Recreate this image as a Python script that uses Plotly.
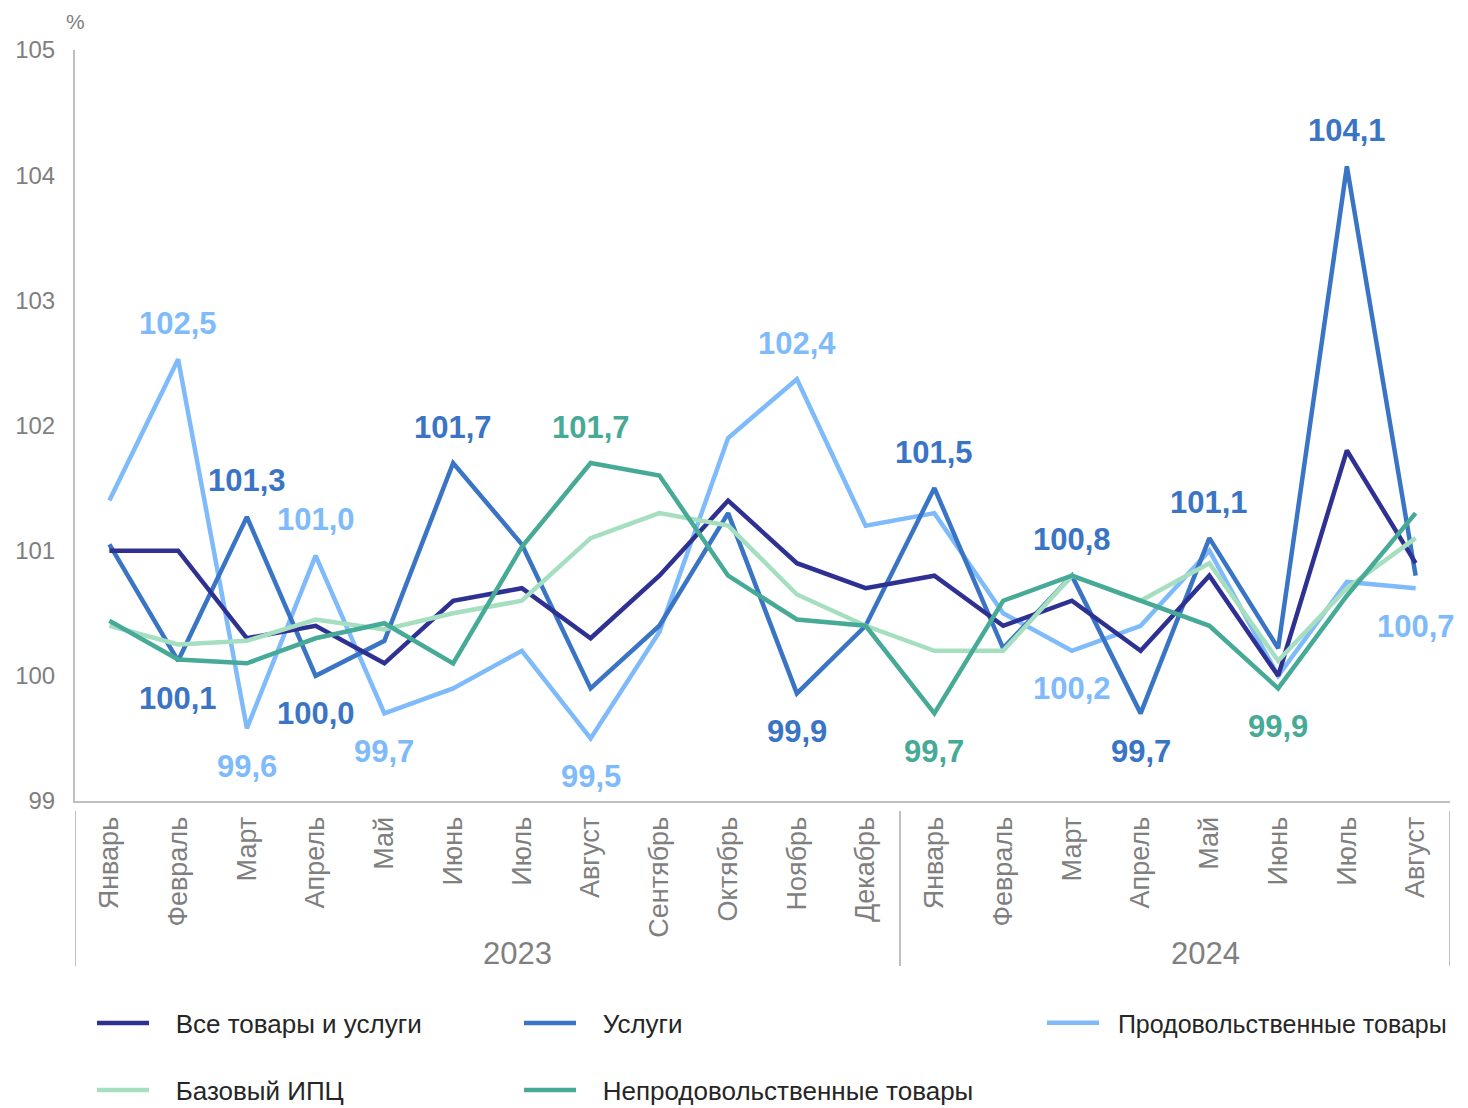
import plotly.graph_objects as go

months = ["Январь", "Февраль", "Март", "Апрель", "Май", "Июнь", "Июль", "Август",
          "Сентябрь", "Октябрь", "Ноябрь", "Декабрь",
          "Январь", "Февраль", "Март", "Апрель", "Май", "Июнь", "Июль", "Август"]
years = ["2023"] * 12 + ["2024"] * 8

all_goods = [101.0, 101.0, 100.3, 100.4, 100.1, 100.6, 100.7, 100.3, 100.8, 101.4,
             100.9, 100.7, 100.8, 100.4, 100.6, 100.2, 100.8, 100.0, 101.8, 100.9]
services = [101.05, 100.12, 101.27, 100.0, 100.28, 101.7, 101.05, 99.9, 100.4, 101.3,
            99.86, 100.4, 101.5, 100.22, 100.8, 99.7, 101.1, 100.22, 104.07, 100.8]
food = [101.4, 102.53, 99.58, 100.96, 99.7, 99.9, 100.2, 99.5, 100.35, 101.9,
        102.37, 101.2, 101.3, 100.5, 100.2, 100.4, 101.0, 100.0, 100.75, 100.7]
core = [100.4, 100.25, 100.28, 100.45, 100.37, 100.5, 100.6, 101.1, 101.3, 101.2,
        100.65, 100.4, 100.2, 100.2, 100.8, 100.6, 100.9, 100.12, 100.7, 101.1]
nonfood = [100.44, 100.13, 100.1, 100.3, 100.42, 100.1, 101.03, 101.7, 101.6, 100.8,
           100.45, 100.4, 99.7, 100.6, 100.8, 100.6, 100.4, 99.9, 100.64, 101.3]

names = {
    "all": "Все товары и услуги",
    "services": "Услуги",
    "food": "Продовольственные товары",
    "core": "Базовый ИПЦ",
    "nonfood": "Непродовольственные товары",
}
values = {"all": all_goods, "services": services, "food": food, "core": core, "nonfood": nonfood}
colors = {"all": "#2E3192", "services": "#3A74C4", "food": "#7FBBFA",
          "core": "#A5DFC0", "nonfood": "#47AA96"}
legend_of = {"all": "legend", "services": "legend2", "food": "legend3",
             "core": "legend4", "nonfood": "legend5"}

# labelled points: (series, index, side)
labelled = [("food", 1, 1), ("services", 1, -1), ("services", 2, 1), ("food", 2, -1),
            ("food", 3, 1), ("services", 3, -1), ("food", 4, -1), ("services", 5, 1),
            ("nonfood", 7, 1), ("food", 7, -1), ("food", 10, 1), ("services", 10, -1),
            ("services", 12, 1), ("nonfood", 12, -1), ("services", 14, 1), ("food", 14, -1),
            ("services", 15, -1), ("services", 16, 1), ("nonfood", 17, -1),
            ("services", 18, 1), ("food", 19, -1)]

FONT = "Arial, 'Liberation Sans', sans-serif"
GREY = "#7F7F7F"
AXIS = "#BFBFBF"
NB = "\u00a0"  # gap between legend line and its text
pad = {"all": NB * 3, "services": NB * 3, "food": NB * 2, "core": NB * 3, "nonfood": NB * 3}

idx = list(range(len(months)))

fig = go.Figure()
for key in ["food", "services", "all", "core", "nonfood"]:
    fig.add_trace(go.Scatter(
        x=idx, y=values[key], mode="lines", name=pad[key] + names[key],
        line=dict(color=colors[key], width=4.5), showlegend=True,
        legend=legend_of[key], legendgroup=key,
    ))

annotations = []
for key, i, side in labelled:
    v = values[key][i]
    annotations.append(dict(
        x=i, y=v, xref="x", yref="y",
        text=f"{v:.1f}".replace(".", ","), showarrow=False,
        font=dict(family=FONT, size=31, color=colors[key], weight="bold"),
        yanchor="middle", xanchor="center",
        yshift=36 if side > 0 else -38,
    ))
annotations.append(dict(x=0, y=1, xref="paper", yref="paper", text="%", showarrow=False,
                        xanchor="center", yanchor="bottom", yshift=15,
                        font=dict(family=FONT, size=21, color=GREY)))

# year groups: labels and dividers
PLOT_H = 751.0
groups = []
for i, yv in enumerate(years):
    if not groups or groups[-1][0] != yv:
        groups.append([yv, i, i])
    else:
        groups[-1][2] = i
shapes = []
div_y0, div_y1 = -10 / PLOT_H, -165 / PLOT_H
for g, (yv, a, b) in enumerate(groups):
    annotations.append(dict(x=(a + b) / 2, y=-153 / PLOT_H, xref="x", yref="paper",
                            text=yv, showarrow=False, xanchor="center", yanchor="middle",
                            xshift=30, font=dict(family=FONT, size=31, color=GREY)))
    for xb in ([a - 0.5] if g == 0 else []) + [b + 0.5]:
        shapes.append(dict(type="line", xref="x", yref="paper", x0=xb, x1=xb,
                           y0=div_y0, y1=div_y1, line=dict(color=AXIS, width=2)))


def legend_box(x, y, size=26):
    return dict(orientation="v", yanchor="middle", xanchor="left",
                xref="container", yref="container", visible=True, x=x, y=y,
                font=dict(family=FONT, size=size, color="#262626"),
                itemwidth=52, bgcolor="rgba(0,0,0,0)")


W, H = 1460.0, 1100.0
row1, row2 = 1015, 1082
fig.update_layout(
    width=int(W), height=int(H), showlegend=True,
    margin=dict(l=67, r=18, t=42, b=307, autoexpand=False),
    plot_bgcolor="white", paper_bgcolor="white",
    font=dict(family=FONT, color=GREY),
    annotations=annotations, shapes=shapes,
    legend=legend_box(84 / W, 1 - row1 / H),
    legend2=legend_box(511 / W, 1 - row1 / H),
    legend3=legend_box(1034 / W, 1 - row1 / H, size=25),
    legend4=legend_box(84 / W, 1 - row2 / H),
    legend5=legend_box(511 / W, 1 - row2 / H),
    xaxis=dict(
        range=[-0.5, len(months) - 0.5], automargin=False,
        tickmode="array", tickvals=idx, ticktext=months,
        showline=True, linecolor=AXIS, linewidth=2,
        showgrid=False, zeroline=False, ticks="", tickangle=-90, ticklabelstandoff=3,
        tickfont=dict(family=FONT, size=27, color=GREY),
    ),
    yaxis=dict(
        range=[99, 105], dtick=1, showgrid=False, zeroline=False, automargin=False,
        showline=True, linecolor=AXIS, linewidth=2, ticks="",
        tickfont=dict(family=FONT, size=24, color=GREY), ticklabelstandoff=13,
    ),
)

fig.write_html("out.html")
